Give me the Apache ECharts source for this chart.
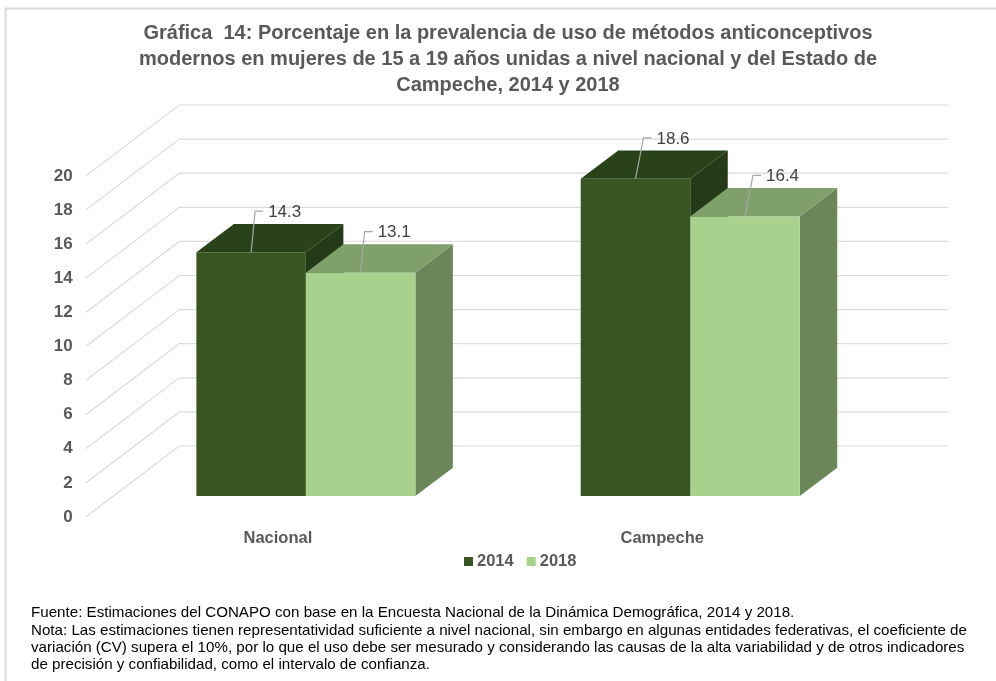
<!DOCTYPE html>
<html>
<head>
<meta charset="utf-8">
<title>Gráfica 14</title>
<style>
html, body { margin: 0; padding: 0; background: #fff; }
#chart { width: 996px; height: 681px; }
</style>
<script src="https://cdn.jsdelivr.net/npm/echarts@6/dist/echarts.min.js"></script>
</head>
<body>
<div id="chart"></div>
<script>
var categories = ['Nacional', 'Campeche'];
var values2014 = [14.3, 18.6];
var values2018 = [13.1, 16.4];
var yTicks = [0, 2, 4, 6, 8, 10, 12, 14, 16, 18, 20];

var titleLines = [
	'Gráfica  14: Porcentaje en la prevalencia de uso de métodos anticonceptivos',
	'modernos en mujeres de 15 a 19 años unidas a nivel nacional y del Estado de',
	'Campeche, 2014 y 2018'
];
var noteLines = [
	'Fuente: Estimaciones del CONAPO con base en la Encuesta Nacional de la Dinámica Demográfica, 2014 y 2018.',
	'Nota: Las estimaciones tienen representatividad suficiente a nivel nacional, sin embargo en algunas entidades federativas, el coeficiente de',
	'variación (CV) supera el 10%, por lo que el uso debe ser mesurado y considerando las causas de la alta variabilidad y de otros indicadores',
	'de precisión y confiabilidad, como el intervalo de confianza.'
];

var FONT = '"Liberation Sans", Arial, sans-serif';
var GREY = '#595959';

// profundidad del "3D": fondo de la grafica y caras de las barras
var WALL_DX = 93.6, WALL_DY = 71;
var BAR_SHIFT_X = 28, BAR_SHIFT_Y = 21;
var BAR_DX = 37.5, BAR_DY = 28.3;
var BAR_WIDTH = 109.5;
var LEADER_DX = [4, 8];

var myChart = echarts.init(document.getElementById('chart'));

function renderWall(params, api) {
	var cs = params.coordSys;
	var y = api.coord([0, api.value(0)])[1];
	return {
		type: 'polyline',
		silent: true,
		shape: { points: [
			[cs.x, y],
			[cs.x + WALL_DX, y - WALL_DY],
			[cs.x + cs.width + WALL_DX, y - WALL_DY]
		] },
		style: { fill: 'none', stroke: '#dcdcdc', lineWidth: 1.2 }
	};
}

// side: 0 = barra izquierda, 1 = barra derecha
function makeBarRenderer(side, front, top, right) {
	return function (params, api) {
		var idx = api.value(0);
		var base = api.coord([idx, 0]);
		var head = api.coord([idx, api.value(1)]);
		var x0 = base[0] + BAR_SHIFT_X - BAR_WIDTH + side * BAR_WIDTH;
		var x1 = x0 + BAR_WIDTH;
		var y0 = base[1] - BAR_SHIFT_Y;
		var y1 = head[1] - BAR_SHIFT_Y;
		var mid = (x0 + x1) / 2;
		var lx = mid + LEADER_DX[idx];
		var ly = y1 - 41;
		return {
			type: 'group',
			children: [
				{
					type: 'polygon',
					shape: { points: [[x1, y0], [x1 + BAR_DX, y0 - BAR_DY], [x1 + BAR_DX, y1 - BAR_DY], [x1, y1]] },
					style: { fill: right }
				},
				{
					type: 'polygon',
					shape: { points: [[x0, y1], [x0 + BAR_DX, y1 - BAR_DY], [x1 + BAR_DX, y1 - BAR_DY], [x1, y1]] },
					style: { fill: top }
				},
				{
					type: 'rect',
					shape: { x: x0, y: y1, width: BAR_WIDTH, height: y0 - y1 },
					style: { fill: front }
				},
				{
					type: 'polyline',
					shape: { points: [[mid, y1], [lx, ly], [lx + 8, ly]] },
					style: { fill: 'none', stroke: '#a6a6a6', lineWidth: 1.2 }
				},
				{
					type: 'text',
					style: {
						x: lx + 13,
						y: ly + 1,
						text: api.value(1).toFixed(1),
						fill: '#404040',
						font: '17px ' + FONT,
						verticalAlign: 'middle'
					}
				}
			]
		};
	};
}

function barData(values) {
	return values.map(function (v, i) { return [i, v]; });
}

var option = {
	animation: false,
	backgroundColor: '#fff',
	textStyle: { fontFamily: FONT },
	title: {
		text: titleLines.join('\n'),
		left: 503,
		top: 15,
		textAlign: 'center',
		textStyle: {
			color: GREY,
			fontFamily: FONT,
			fontSize: 20,
			fontWeight: 'bold',
			lineHeight: 26
		}
	},
	legend: {
		data: ['2014', '2018'],
		left: 459,
		top: 548,
		icon: 'rect',
		itemWidth: 9,
		itemHeight: 9,
		itemGap: 13,
		selectedMode: false,
		textStyle: { color: GREY, fontFamily: FONT, fontSize: 16.5, fontWeight: 'bold', padding: [0, 0, 0, -1] }
	},
	grid: { left: 85.7, top: 176, width: 768.7, height: 341 },
	xAxis: {
		type: 'category',
		data: categories,
		axisLine: { show: false },
		axisTick: { show: false },
		axisLabel: { color: GREY, fontFamily: FONT, fontSize: 16.5, fontWeight: 'bold', margin: 13 }
	},
	yAxis: {
		type: 'value',
		min: 0,
		max: 20,
		interval: 2,
		axisLine: { show: false },
		axisTick: { show: false },
		splitLine: { show: false },
		axisLabel: { color: GREY, fontFamily: FONT, fontSize: 17, fontWeight: 'bold', margin: 13, padding: [4, 0, 0, 0] }
	},
	graphic: [
		{
			type: 'polyline',
			silent: true,
			shape: { points: [[5.5, 681], [5.5, 8.5], [996, 8.5]] },
			style: { fill: 'none', stroke: '#dcdcdc', lineWidth: 2 }
		}
	].concat(noteLines.map(function (line, i) {
		return {
			type: 'text',
			silent: true,
			left: 31,
			top: 605.5 + i * 17.4,
			style: { text: line, fill: '#000', font: '15.15px ' + FONT }
		};
	})),
	series: [
		{
			name: 'grid3d',
			type: 'custom',
			clip: false,
			z: 1,
			silent: true,
			renderItem: renderWall,
			encode: { y: 0 },
			data: yTicks.map(function (t) { return [t]; })
		},
		{
			name: '2014',
			type: 'custom',
			clip: false,
			z: 2,
			itemStyle: { color: '#375623' },
			renderItem: makeBarRenderer(0, '#375623', '#2a4219', '#253a16'),
			encode: { x: 0, y: 1 },
			data: barData(values2014)
		},
		{
			name: '2018',
			type: 'custom',
			clip: false,
			z: 3,
			itemStyle: { color: '#a9d18e' },
			renderItem: makeBarRenderer(1, '#a9d18e', '#7f9f6b', '#6b875a'),
			encode: { x: 0, y: 1 },
			data: barData(values2018)
		}
	]
};

myChart.setOption(option);
</script>
</body>
</html>
